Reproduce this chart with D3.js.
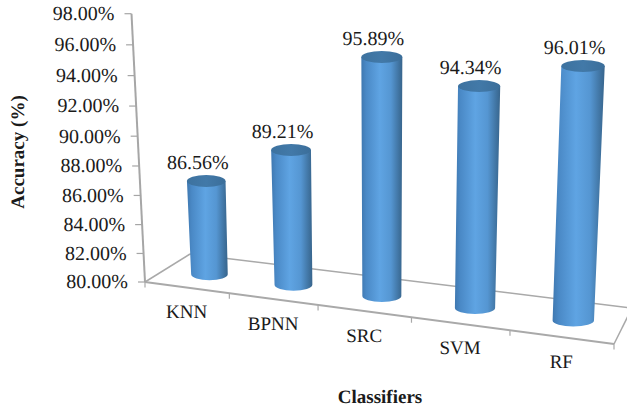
<!DOCTYPE html>
<html>
<head>
<meta charset="utf-8">
<script src="https://cdn.jsdelivr.net/npm/d3@7"></script>
<style>
  html, body { margin: 0; padding: 0; background: #fff; }
  svg { display: block; }
  text { font-family: "Liberation Serif", serif; fill: #1a1a1a; text-rendering: geometricPrecision; }
</style>
</head>
<body>
<script>
// Classifier accuracy, drawn as 3D cylinders standing on a floor in perspective.
const categories = ["KNN", "BPNN", "SRC", "SVM", "RF"];
const accuracy = [86.56, 89.21, 95.89, 94.34, 96.01];
const tickValues = [80, 82, 84, 86, 88, 90, 92, 94, 96, 98];
const valueDomain = [80, 98];
const xTitle = "Classifiers";
const yTitle = "Accuracy (%)";

const width = 627, height = 408;

const svg = d3.select("body").append("svg")
  .attr("width", width).attr("height", height);

// Perspective easing: equal steps on the far side project shorter.
const foreshorten = (t, q) => t / (t + q * (1 - t));

// Floor corners in screen space.
const frontLeft = [145, 282], frontRight = [614, 344];
const backLeft = [190, 254], backRight = [632, 308];
const lerp = (a, b, t) => [a[0] + (b[0] - a[0]) * t, a[1] + (b[1] - a[1]) * t];

// Category position across the floor, then projected.
const band = d3.scaleBand().domain(categories).range([0, 1]);
const across = u => foreshorten(u, 1.14);
const frontAt = u => lerp(frontLeft, frontRight, across(u));
const backAt = u => lerp(backLeft, backRight, across(u));

// Value axis, leaning towards the vanishing point below the chart.
const axisTop = [131.5, 13.7];
const t = d3.scaleLinear().domain(valueDomain).range([0, 1]);
const lift = v => foreshorten(t(v), 1.05);
const axisPoint = v => lerp(frontLeft, axisTop, lift(v));

// Pixels per accuracy point grow as the floor comes towards the viewer.
const pxPerPoint = d3.scaleLinear().domain([0, 1]).range([14.0, 16.1]);
const radius = d3.scaleLinear().domain([0, 1]).range([18, 21]);
const vanishX = 382, leanRate = 0.0002, ry = 6;

const defs = svg.append("defs");
const sideGrad = defs.append("linearGradient").attr("id", "cylinderSide");
[[0, "#3f78b0"], [0.12, "#4a89c6"], [0.45, "#5fa4e3"], [0.72, "#5596d2"], [0.92, "#3f729f"], [1, "#38658c"]]
  .forEach(([o, c]) => sideGrad.append("stop").attr("offset", o).attr("stop-color", c));
const capGrad = defs.append("linearGradient").attr("id", "cylinderCap");
[[0, "#3d729f"], [0.5, "#4279a8"], [1, "#3b6e9a"]]
  .forEach(([o, c]) => capGrad.append("stop").attr("offset", o).attr("stop-color", c));

// Floor outline.
const floor = svg.append("g").attr("stroke", "#a9a9a9").attr("fill", "none");
const segment = (a, b, w) => floor.append("line")
  .attr("x1", a[0]).attr("y1", a[1]).attr("x2", b[0]).attr("y2", b[1]).attr("stroke-width", w);
segment(backLeft, backRight, 1.5);
segment(frontLeft, backLeft, 1.5);
segment(frontRight, backRight, 1.5);
segment(frontLeft, frontRight, 2);
segment(frontLeft, axisTop, 2).attr("stroke", "#a6a6a6");

// Category ticks along the front edge.
floor.selectAll(".cat-tick")
  .data(d3.range(categories.length + 1))
  .join("line")
  .attr("class", "cat-tick")
  .attr("stroke-width", 1.2)
  .attr("x1", i => frontAt(i / categories.length)[0])
  .attr("x2", i => frontAt(i / categories.length)[0])
  .attr("y1", i => frontAt(i / categories.length)[1])
  .attr("y2", i => frontAt(i / categories.length)[1] + 5.5);

// Value ticks come from d3.axisLeft and are then moved onto the leaning axis.
const axisScale = d3.scaleLinear().domain(valueDomain).range([281.7, 13.7]);
const yAxis = svg.append("g")
  .call(d3.axisLeft(axisScale)
    .tickValues(tickValues)
    .tickSize(7)
    .tickPadding(10)
    .tickFormat(d => d.toFixed(2) + "%"));
yAxis.select(".domain").remove();
yAxis.attr("font-family", null).attr("font-size", null);
yAxis.selectAll(".tick")
  .attr("transform", d => `translate(${axisPoint(d)[0]},${axisPoint(d)[1]})`);
yAxis.selectAll(".tick line").attr("stroke", "#a6a6a6").attr("stroke-width", 1.2);
yAxis.selectAll(".tick text").attr("font-size", 20).attr("fill", "#1a1a1a");

// Cylinders, from the category position and the accuracy value.
const bars = categories.map((name, i) => {
  const u = band(name) + band.bandwidth() / 2;
  const [bx, by] = lerp(frontAt(u), backAt(u), 0.5);
  const baseX = bx + 1.5, baseY = by + 1;
  const h = (accuracy[i] - valueDomain[0]) * pxPerPoint(u);
  const topX = baseX + (baseX - vanishX) * leanRate * h;
  const rBase = radius(u), rTop = rBase + 1;
  return { name, value: accuracy[i], u, baseX, baseY, topX, topY: baseY - h, rBase, rTop };
});

const cyl = svg.append("g").selectAll("g").data(bars).join("g");
cyl.append("path")
  .attr("fill", "url(#cylinderSide)")
  .attr("d", d => `M${d.topX - d.rTop},${d.topY}`
    + `L${d.baseX - d.rBase},${d.baseY}`
    + `A${d.rBase},${ry} 0 0 0 ${d.baseX + d.rBase},${d.baseY}`
    + `L${d.topX + d.rTop},${d.topY}Z`);
cyl.append("ellipse")
  .attr("fill", "url(#cylinderCap)")
  .attr("cx", d => d.topX).attr("cy", d => d.topY)
  .attr("rx", d => d.rTop).attr("ry", ry);

// Value labels above each cylinder.
svg.append("g").selectAll("text").data(bars).join("text")
  .attr("text-anchor", "middle")
  .attr("font-size", 20)
  .attr("x", d => d.topX - 8.5)
  .attr("y", d => d.topY - 19)
  .attr("dy", "0.35em")
  .text(d => d.value.toFixed(2) + "%");

// Category labels below the front edge.
svg.append("g").selectAll("text").data(bars).join("text")
  .attr("text-anchor", "middle")
  .attr("font-size", 19)
  .attr("x", d => frontAt(d.u)[0])
  .attr("y", d => frontAt(d.u)[1] + 24)
  .attr("dy", "0.35em")
  .text(d => d.name);

// Axis titles.
svg.append("text")
  .attr("text-anchor", "middle").attr("font-weight", "bold").attr("font-size", 19)
  .attr("x", 380).attr("y", 396).attr("dy", "0.35em")
  .text(xTitle);
svg.append("text")
  .attr("text-anchor", "middle").attr("font-weight", "bold").attr("font-size", 19)
  .attr("transform", "translate(17,152) rotate(-90)")
  .attr("dy", "0.35em")
  .text(yTitle);
</script>
</body>
</html>
